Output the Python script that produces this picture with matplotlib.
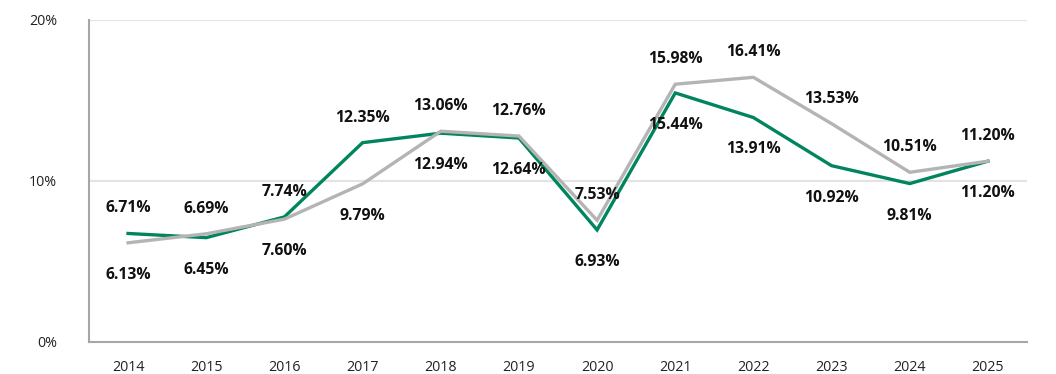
import matplotlib
matplotlib.use("Agg")
import matplotlib.pyplot as plt
from matplotlib.ticker import FuncFormatter

years = ["2014", "2015", "2016", "2017", "2018", "2019", "2020", "2021", "2022", "2023", "2024", "2025"]
green_values = [6.71, 6.45, 7.74, 12.35, 12.94, 12.64, 6.93, 15.44, 13.91, 10.92, 9.81, 11.20]
gray_values = [6.13, 6.69, 7.60, 9.79, 13.06, 12.76, 7.53, 15.98, 16.41, 13.53, 10.51, 11.20]
y_ticks = [0, 10, 20]

GREEN = "#00855F"
GRAY = "#B4B4B4"

plt.rcParams['font.family'] = ['Open Sans', 'DejaVu Sans']

fig = plt.figure(figsize=(10.56, 3.74), dpi=100)
ax = fig.add_axes([89 / 1056, 32.5 / 374, 938 / 1056, 322 / 374])

x = list(range(len(years)))
ax.plot(x, green_values, color=GREEN, lw=2.4, solid_joinstyle='miter', zorder=3)
ax.plot(x, gray_values, color=GRAY, lw=2.4, solid_joinstyle='miter', zorder=4)

for i in x:
    g, s = green_values[i], gray_values[i]
    hi, lo = (g, s) if g >= s else (s, g)
    ax.annotate(f"{hi:.2f}%", (i, hi), xytext=(0, 18), textcoords='offset points',
                ha='center', va='center', fontsize=11.3, fontweight='bold', color='#111111', zorder=5)
    ax.annotate(f"{lo:.2f}%", (i, lo), xytext=(0, -23), textcoords='offset points',
                ha='center', va='center', fontsize=11.3, fontweight='bold', color='#111111', zorder=5)

ax.set_xlim(-0.5, 11.5)
ax.set_ylim(0, 20)
ax.set_xticks(x)
ax.set_xticklabels(years)
ax.set_yticks(y_ticks)
ax.yaxis.set_major_formatter(FuncFormatter(lambda v, p: f"{v:.0f}%"))
ax.tick_params(axis='both', length=0, labelsize=10.3, colors='#222222')
ax.tick_params(axis='x', pad=13)
ax.tick_params(axis='y', pad=23)

for y in y_ticks[1:]:
    ax.axhline(y, color='#E3E3E3', lw=1.5, zorder=1)

for side in ['top', 'right']:
    ax.spines[side].set_visible(False)
for side in ['left', 'bottom']:
    ax.spines[side].set_color('#A6A6A6')
    ax.spines[side].set_linewidth(1.5)

fig.savefig("out.png", dpi=100)
